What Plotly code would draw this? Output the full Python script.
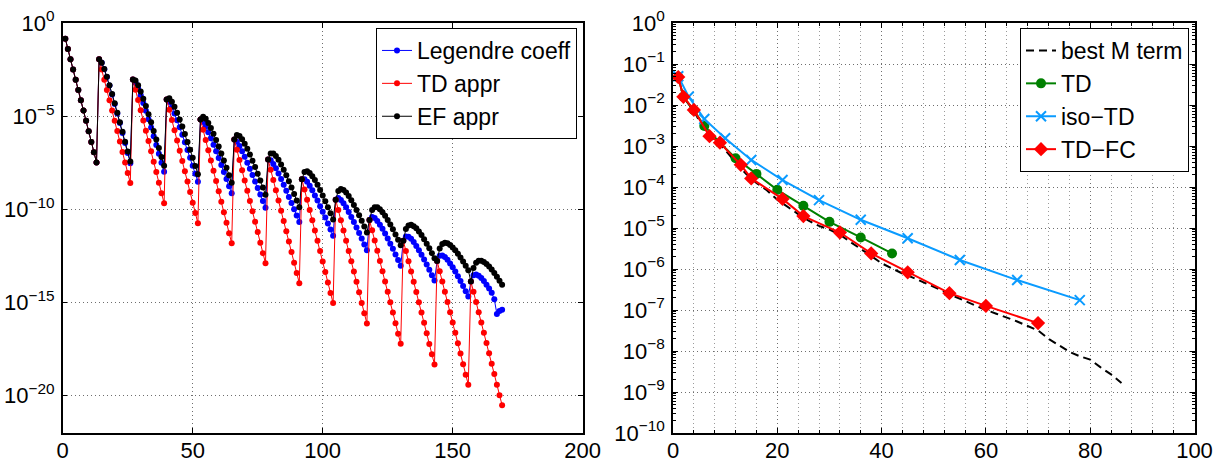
import plotly.graph_objects as go

# ------------------------------------------------------------------
# Left panel: coefficient magnitudes (values stored as log10 exponents)
# ------------------------------------------------------------------
coeff_index = list(range(1, 170))

legendre_coeff_log10 = [
    -0.84, -1.39, -1.94, -2.49, -3.04, -3.59, -4.14, -4.69, -5.25, -5.81, -6.38, -6.94, -7.48,
    -1.95, -2.13, -2.48, -2.90, -3.36, -3.84, -4.34, -4.85, -5.37, -5.90, -6.44, -6.97, -7.52,
    -3.03, -3.19, -3.50, -3.88, -4.29, -4.71, -5.16, -5.61, -6.08, -6.55, -7.02, -7.50, -7.98,
    -4.10, -4.24, -4.52, -4.86, -5.22, -5.60, -6.00, -6.40, -6.82, -7.23, -7.66, -8.09, -8.52,
    -5.18, -5.31, -5.56, -5.86, -6.18, -6.53, -6.88, -7.25, -7.62, -7.99, -8.37, -8.76, -9.14,
    -6.25, -6.37, -6.60, -6.88, -7.18, -7.50, -7.82, -8.16, -8.50, -8.85, -9.20, -9.55, -9.91,
    -7.32, -7.37, -7.56, -7.80, -8.08, -8.37, -8.68, -9.00, -9.33, -9.66, -9.99, -10.33, -10.68,
    -8.39, -8.38, -8.52, -8.73, -8.98, -9.25, -9.53, -9.83, -10.13, -10.44, -10.76, -11.08, -11.41,
    -9.48, -9.39, -9.50, -9.67, -9.89, -10.14, -10.41, -10.68, -10.97, -11.27, -11.57, -11.88, -12.19,
    -10.57, -10.41, -10.47, -10.62, -10.82, -11.04, -11.29, -11.56, -11.84, -12.12, -12.42, -12.72, -13.03,
    -11.68, -11.45, -11.47, -11.58, -11.75, -11.96, -12.19, -12.43, -12.69, -12.96, -13.24, -13.53, -13.82,
    -12.77, -12.49, -12.47, -12.56, -12.71, -12.90, -13.11, -13.34, -13.59, -13.84, -14.11, -14.39, -14.67,
    -13.87, -13.54, -13.49, -13.56, -13.68, -13.85, -14.04, -14.25, -14.48, -14.82, -15.62, -15.45, -15.39,
]

td_appr_log10 = [
    -0.84, -1.39, -1.94, -2.49, -3.04, -3.59, -4.14, -4.69, -5.25, -5.81, -6.38, -6.94, -7.48,
    -1.95, -2.50, -3.05, -3.60, -4.15, -4.70, -5.25, -5.80, -6.36, -6.92, -7.49, -8.05, -8.59,
    -3.03, -3.58, -4.13, -4.68, -5.23, -5.78, -6.33, -6.88, -7.44, -8.00, -8.57, -9.13, -9.67,
    -4.10, -4.65, -5.20, -5.75, -6.30, -6.85, -7.40, -7.95, -8.51, -9.07, -9.64, -10.20, -10.74,
    -5.18, -5.73, -6.28, -6.83, -7.38, -7.93, -8.48, -9.03, -9.59, -10.15, -10.72, -11.28, -11.82,
    -6.25, -6.80, -7.35, -7.90, -8.45, -9.00, -9.55, -10.10, -10.66, -11.22, -11.79, -12.35, -12.89,
    -7.32, -7.87, -8.42, -8.97, -9.52, -10.07, -10.62, -11.17, -11.73, -12.29, -12.86, -13.42, -13.96,
    -8.39, -8.94, -9.49, -10.04, -10.59, -11.14, -11.69, -12.24, -12.80, -13.36, -13.93, -14.49, -15.03,
    -9.48, -10.03, -10.58, -11.13, -11.68, -12.23, -12.78, -13.33, -13.89, -14.45, -15.02, -15.58, -16.12,
    -10.57, -11.12, -11.67, -12.22, -12.77, -13.32, -13.87, -14.42, -14.98, -15.54, -16.11, -16.67, -17.21,
    -11.68, -12.23, -12.78, -13.33, -13.88, -14.43, -14.98, -15.53, -16.09, -16.65, -17.22, -17.78, -18.32,
    -12.77, -13.32, -13.87, -14.42, -14.97, -15.52, -16.07, -16.62, -17.18, -17.74, -18.31, -18.87, -19.41,
    -13.87, -14.42, -14.97, -15.52, -16.07, -16.62, -17.17, -17.72, -18.28, -18.84, -19.41, -19.97, -20.51,
]

ef_appr_log10 = [
    -0.84, -1.39, -1.94, -2.49, -3.04, -3.59, -4.14, -4.69, -5.25, -5.81, -6.38, -6.94, -7.48,
    -1.95, -2.13, -2.47, -2.89, -3.34, -3.81, -4.31, -4.81, -5.32, -5.84, -6.37, -6.90, -7.43,
    -3.03, -3.09, -3.34, -3.68, -4.06, -4.46, -4.89, -5.33, -5.79, -6.25, -6.71, -7.19, -7.66,
    -4.10, -4.04, -4.22, -4.49, -4.82, -5.18, -5.56, -5.96, -6.38, -6.80, -7.23, -7.67, -8.11,
    -5.18, -5.03, -5.14, -5.36, -5.63, -5.94, -6.28, -6.63, -7.00, -7.38, -7.77, -8.17, -8.57,
    -6.25, -6.01, -6.07, -6.24, -6.48, -6.75, -7.06, -7.39, -7.73, -8.09, -8.45, -8.83, -9.21,
    -7.32, -7.00, -7.00, -7.14, -7.34, -7.59, -7.87, -8.17, -8.49, -8.83, -9.17, -9.53, -9.89,
    -8.39, -8.00, -7.96, -8.05, -8.22, -8.43, -8.68, -8.96, -9.25, -9.56, -9.88, -10.21, -10.55,
    -9.48, -9.01, -8.91, -8.96, -9.10, -9.28, -9.51, -9.76, -10.03, -10.32, -10.61, -10.92, -11.24,
    -10.57, -10.03, -9.88, -9.89, -9.99, -10.15, -10.34, -10.57, -10.81, -11.07, -11.35, -11.63, -11.93,
    -11.68, -11.06, -10.86, -10.83, -10.90, -11.02, -11.19, -11.38, -11.60, -11.84, -12.09, -12.35, -12.62,
    -12.77, -12.10, -11.86, -11.79, -11.82, -11.91, -12.04, -12.20, -12.38, -12.58, -12.80, -13.03, -13.27,
    -13.87, -13.14, -12.86, -12.76, -12.76, -12.82, -12.93, -13.07, -13.23, -13.42, -13.62, -13.83, -14.05,
]

left_xticks = [0, 50, 100, 150, 200]
left_ytick_exp = [0, -5, -10, -15, -20]

# ------------------------------------------------------------------
# Right panel: error versus number of terms M (log10 exponents)
# ------------------------------------------------------------------
best_m_x = [1, 2, 3, 4, 5, 6, 7, 8, 9, 10, 12, 14, 16, 18, 20, 22, 24, 26, 28, 30,
            32, 34, 36, 38, 40, 42, 44, 46, 48, 50, 52, 54, 56, 58, 60, 62, 64, 66,
            68, 70, 72, 74, 76, 78, 80, 82, 84, 86]
best_m_log10 = [-1.32, -1.80, -1.98, -2.14, -2.38, -2.58, -2.77, -2.87, -2.95, -3.10,
                -3.40, -3.68, -3.90, -4.08, -4.31, -4.49, -4.66, -4.82, -4.95, -5.04,
                -5.16, -5.34, -5.50, -5.68, -5.86, -5.99, -6.11, -6.21, -6.32, -6.43,
                -6.55, -6.67, -6.78, -6.89, -7.00, -7.09, -7.18, -7.28, -7.39, -7.50,
                -7.70, -7.86, -8.02, -8.13, -8.21, -8.40, -8.57, -8.78]

td_x = [1, 2, 4, 6, 9, 12, 16, 20, 25, 30, 36, 42]
td_log10 = [-1.32, -1.80, -2.13, -2.51, -2.92, -3.30, -3.68, -4.07, -4.46, -4.85, -5.23, -5.62]

iso_td_x = [1, 3, 6, 10, 15, 21, 28, 36, 45, 55, 66, 78]
iso_td_log10 = [-1.30, -1.80, -2.34, -2.81, -3.34, -3.83, -4.32, -4.80, -5.25, -5.78, -6.27, -6.76]

td_fc_x = [1, 2, 4, 7, 9, 13, 15, 21, 25, 32, 38, 45, 53, 60, 70]
td_fc_log10 = [-1.32, -1.80, -2.12, -2.76, -2.92, -3.46, -3.79, -4.29, -4.71, -5.11,
               -5.62, -6.08, -6.59, -6.90, -7.32]

right_xticks = [0, 20, 40, 60, 80, 100]
right_ytick_exp = [0, -1, -2, -3, -4, -5, -6, -7, -8, -9, -10]


def pow10(vals):
    return [10.0 ** v for v in vals]


def exp_label(e):
    return "10<sup>" + (str(e) if e >= 0 else "\u2212" + str(-e)) + "</sup>"


FONT = "Liberation Sans, Arial, Helvetica, sans-serif"
W, H = 1226, 465

fig = go.Figure()

# left panel traces
fig.add_trace(go.Scatter(x=coeff_index, y=pow10(legendre_coeff_log10), name="Legendre coeff",
                         mode="lines+markers", line=dict(color="#0000ff", width=1),
                         marker=dict(color="#0000ff", size=6), xaxis="x", yaxis="y",
                         legend="legend"))
fig.add_trace(go.Scatter(x=coeff_index, y=pow10(td_appr_log10), name="TD appr",
                         mode="lines+markers", line=dict(color="#ff0000", width=1),
                         marker=dict(color="#ff0000", size=6), xaxis="x", yaxis="y",
                         legend="legend"))
fig.add_trace(go.Scatter(x=coeff_index, y=pow10(ef_appr_log10), name="EF appr",
                         mode="lines+markers", line=dict(color="#000000", width=1),
                         marker=dict(color="#000000", size=6), xaxis="x", yaxis="y",
                         legend="legend"))

# right panel traces
fig.add_trace(go.Scatter(x=best_m_x, y=pow10(best_m_log10), name="best M term",
                         mode="lines", line=dict(color="#000000", width=2, dash="8px,5px"),
                         xaxis="x2", yaxis="y2", legend="legend2"))
fig.add_trace(go.Scatter(x=td_x, y=pow10(td_log10), name="TD",
                         mode="lines+markers", line=dict(color="#008000", width=2),
                         marker=dict(color="#008000", size=10, symbol="circle"),
                         xaxis="x2", yaxis="y2", legend="legend2"))
fig.add_trace(go.Scatter(x=iso_td_x, y=pow10(iso_td_log10), name="iso\u2212TD",
                         mode="lines+markers", line=dict(color="#0a9bff", width=2),
                         marker=dict(color="#0a9bff", size=10, symbol="x-thin",
                                     line=dict(color="#0a9bff", width=2)),
                         xaxis="x2", yaxis="y2", legend="legend2"))
fig.add_trace(go.Scatter(x=td_fc_x, y=pow10(td_fc_log10), name="TD\u2212FC",
                         mode="lines+markers", line=dict(color="#ff0000", width=2),
                         marker=dict(color="#ff0000", size=11, symbol="diamond"),
                         xaxis="x2", yaxis="y2", legend="legend2"))

GRID_DASH = "1px,3px"
axis_common = dict(showline=True, linecolor="black", linewidth=1.5, mirror="ticks",
                   ticks="inside", ticklen=5, tickcolor="black", tickwidth=1,
                   showgrid=True, gridcolor="#6e6e6e", griddash=GRID_DASH, gridwidth=1,
                   zeroline=False, automargin=False,
                   tickfont=dict(size=22, color="black", family=FONT))

left_dom_x = [62.7 / W, 582.7 / W]
right_dom_x = [673.0 / W, 1194.5 / W]
dom_y = [(H - 433.0) / H, (H - 23.0) / H]
LEG_FONT = dict(size=23, family=FONT, color="black")

fig.update_layout(
    template="none",
    width=W, height=H,
    margin=dict(l=0, r=0, t=0, b=0, pad=0),
    paper_bgcolor="white", plot_bgcolor="white",
    font=dict(family=FONT, size=22, color="black"),
    xaxis=dict(domain=left_dom_x, range=[0, 200], tickmode="array", tickvals=left_xticks,
               anchor="y", ticklabelstandoff=-3, **axis_common),
    yaxis=dict(domain=dom_y, type="log", range=[-22, 0], tickmode="array",
               tickvals=[10.0 ** e for e in left_ytick_exp],
               ticktext=[exp_label(e) for e in left_ytick_exp], anchor="x",
               ticklabelstandoff=2, **axis_common),
    xaxis2=dict(domain=right_dom_x, range=[0, 100], tickmode="array", tickvals=right_xticks,
                anchor="y2", ticklabelstandoff=-3,
                minor=dict(dtick=4, tick0=0, showgrid=True, gridcolor="#9a9a9a",
                           griddash=GRID_DASH, gridwidth=1, ticks="inside", ticklen=3,
                           tickcolor="black"),
                **axis_common),
    yaxis2=dict(domain=dom_y, type="log", range=[-10, 0], tickmode="array",
                tickvals=[10.0 ** e for e in right_ytick_exp],
                ticktext=[exp_label(e) for e in right_ytick_exp], anchor="x2",
                ticklabelstandoff=2,
                minor=dict(dtick="D1", ticks="inside", ticklen=3, tickcolor="black",
                           showgrid=False),
                **axis_common),
    legend=dict(x=577.0 / W, y=1 - 28.0 / H, xanchor="right", yanchor="top",
                bordercolor="black", borderwidth=1, bgcolor="white",
                font=LEG_FONT, tracegroupgap=0),
    legend2=dict(x=1189.0 / W, y=1 - 28.0 / H, xanchor="right", yanchor="top",
                 bordercolor="black", borderwidth=1, bgcolor="white",
                 font=LEG_FONT, tracegroupgap=0),
)

fig.write_html("out.html")
